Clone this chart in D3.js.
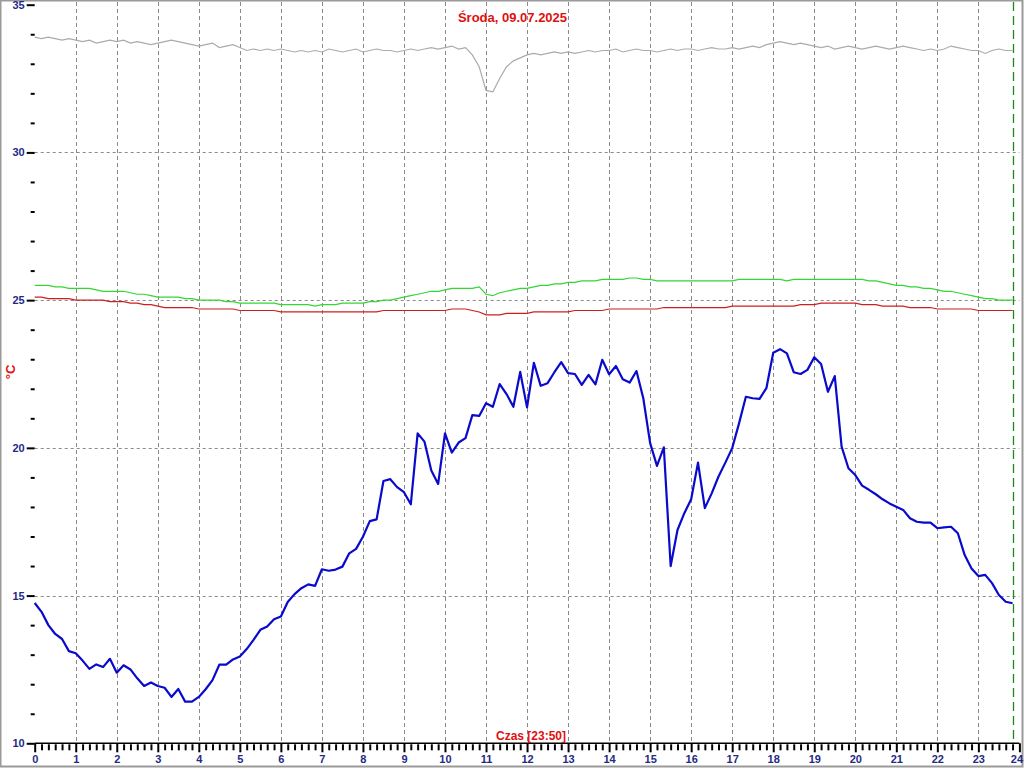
<!DOCTYPE html>
<html>
<head>
<meta charset="utf-8">
<script src="https://cdn.jsdelivr.net/npm/d3@7"></script>
<style>
  html, body { margin: 0; padding: 0; background: #fff; }
  svg { display: block; }
  text { font-family: "Liberation Sans", Arial, sans-serif; }
</style>
</head>
<body>
<svg id="chart" width="1024" height="768"></svg>
<script>
// ---- data (10-minute samples, 00:00 .. 23:50) ----
const titleText = "Środa, 09.07.2025";
const xTitle = "Czas [23:50]";
const yTitle = "°C";
const currentHour = 23 + 50 / 60;
const xTickLabels = d3.range(0, 25);
const yTickLabels = [10, 15, 20, 25, 30, 35];

const temperature = [
  14.75, 14.45, 14.0, 13.7, 13.53, 13.12,
  13.05, 12.8, 12.52, 12.67, 12.58, 12.86,
  12.39, 12.64, 12.5, 12.2, 11.94, 12.06,
  11.94, 11.88, 11.57, 11.84, 11.41, 11.41,
  11.57, 11.83, 12.14, 12.66, 12.66, 12.84,
  12.94, 13.19, 13.5, 13.84, 13.95, 14.2,
  14.29, 14.78, 15.05, 15.25, 15.38, 15.33,
  15.89, 15.84, 15.88, 15.98, 16.43, 16.58,
  16.99, 17.52, 17.58, 18.88, 18.94, 18.67,
  18.5, 18.09, 20.49, 20.21, 19.23, 18.78,
  20.49, 19.84, 20.18, 20.33, 21.11, 21.08,
  21.51, 21.39, 22.16, 21.82, 21.39, 22.57,
  21.37, 22.88, 22.1, 22.19, 22.56, 22.9,
  22.53, 22.5, 22.13, 22.47, 22.15, 22.98,
  22.49, 22.77, 22.32, 22.21, 22.6, 21.68,
  20.16, 19.39, 20.02, 16.0, 17.22, 17.79,
  18.26, 19.5, 17.96, 18.46, 19.03, 19.5,
  19.99, 20.83, 21.73, 21.68, 21.66, 22.02,
  23.22, 23.34, 23.2, 22.56, 22.5, 22.64,
  23.07, 22.84, 21.9, 22.43, 20.04, 19.31,
  19.08, 18.72, 18.58, 18.43, 18.26, 18.12,
  18.01, 17.9, 17.62, 17.5, 17.47, 17.47,
  17.28, 17.31, 17.33, 17.11, 16.37, 15.92,
  15.66, 15.7, 15.42, 15.02, 14.79, 14.74
];

const grayValues = [
  33.9, 33.85, 33.9, 33.85, 33.8, 33.85,
  33.8, 33.75, 33.8, 33.7, 33.75, 33.8,
  33.75, 33.8, 33.7, 33.75, 33.7, 33.65,
  33.7, 33.75, 33.8, 33.75, 33.7, 33.65,
  33.6, 33.65, 33.7, 33.55, 33.6, 33.65,
  33.55, 33.45, 33.5, 33.45, 33.5, 33.45,
  33.5, 33.45, 33.4, 33.45, 33.4, 33.45,
  33.4, 33.5, 33.45, 33.4, 33.45, 33.5,
  33.4, 33.45, 33.5, 33.45, 33.45, 33.4,
  33.45, 33.5, 33.45, 33.5, 33.55, 33.5,
  33.55, 33.6, 33.5, 33.55, 33.3, 32.9,
  32.1, 32.05, 32.5, 32.9, 33.1, 33.2,
  33.3, 33.35, 33.3, 33.35, 33.4, 33.35,
  33.4, 33.35, 33.4, 33.45, 33.4, 33.45,
  33.45, 33.5, 33.4, 33.45, 33.5, 33.45,
  33.45, 33.4, 33.45, 33.5, 33.45, 33.5,
  33.5, 33.45, 33.5, 33.55, 33.5, 33.5,
  33.55, 33.5, 33.55, 33.6, 33.55, 33.65,
  33.7, 33.75, 33.7, 33.65, 33.7, 33.65,
  33.6, 33.55, 33.6, 33.5, 33.55, 33.6,
  33.55, 33.5, 33.55, 33.6, 33.55, 33.5,
  33.55, 33.6, 33.55, 33.5, 33.45, 33.5,
  33.45, 33.5, 33.6, 33.55, 33.5, 33.45,
  33.45, 33.35, 33.45, 33.5, 33.45, 33.45
];

const greenValues = [
  25.5, 25.5, 25.5, 25.45, 25.45, 25.4,
  25.4, 25.4, 25.4, 25.35, 25.3, 25.3,
  25.3, 25.3, 25.25, 25.2, 25.2, 25.15,
  25.1, 25.1, 25.1, 25.1, 25.05, 25.05,
  25.0, 25.0, 25.0, 25.0, 24.95, 24.95,
  24.9, 24.9, 24.9, 24.9, 24.9, 24.9,
  24.85, 24.85, 24.85, 24.85, 24.85, 24.8,
  24.85, 24.85, 24.85, 24.9, 24.9, 24.9,
  24.9, 24.95, 24.95, 25.0, 25.0, 25.05,
  25.1, 25.15, 25.2, 25.25, 25.3, 25.3,
  25.35, 25.4, 25.4, 25.4, 25.4, 25.45,
  25.2, 25.15, 25.25, 25.3, 25.35, 25.4,
  25.4, 25.45, 25.5, 25.5, 25.55, 25.55,
  25.6, 25.6, 25.65, 25.65, 25.65, 25.7,
  25.7, 25.7, 25.7, 25.75, 25.75, 25.7,
  25.7, 25.65, 25.65, 25.65, 25.65, 25.65,
  25.65, 25.65, 25.65, 25.65, 25.65, 25.65,
  25.65, 25.7, 25.7, 25.7, 25.7, 25.7,
  25.7, 25.7, 25.65, 25.7, 25.7, 25.7,
  25.7, 25.7, 25.7, 25.7, 25.7, 25.7,
  25.7, 25.7, 25.65, 25.65, 25.6, 25.55,
  25.5, 25.5, 25.45, 25.45, 25.4, 25.4,
  25.35, 25.3, 25.3, 25.25, 25.2, 25.15,
  25.1, 25.05, 25.05, 25.0, 25.0, 25.0
];

const redValues = [
  25.1, 25.1, 25.05, 25.05, 25.05, 25.05,
  25.0, 25.0, 25.0, 25.0, 25.0, 24.95,
  24.95, 24.95, 24.9, 24.9, 24.85, 24.85,
  24.8, 24.75, 24.75, 24.75, 24.75, 24.75,
  24.7, 24.7, 24.7, 24.7, 24.7, 24.7,
  24.65, 24.65, 24.65, 24.65, 24.65, 24.65,
  24.6, 24.6, 24.6, 24.6, 24.6, 24.6,
  24.6, 24.6, 24.6, 24.6, 24.6, 24.6,
  24.6, 24.6, 24.6, 24.65, 24.65, 24.65,
  24.65, 24.65, 24.65, 24.65, 24.65, 24.65,
  24.65, 24.7, 24.7, 24.7, 24.65, 24.6,
  24.5, 24.5, 24.5, 24.55, 24.55, 24.55,
  24.55, 24.6, 24.6, 24.6, 24.6, 24.6,
  24.6, 24.65, 24.65, 24.65, 24.65, 24.65,
  24.7, 24.7, 24.7, 24.7, 24.7, 24.7,
  24.7, 24.7, 24.75, 24.75, 24.75, 24.75,
  24.75, 24.75, 24.75, 24.75, 24.75, 24.75,
  24.8, 24.8, 24.8, 24.8, 24.8, 24.8,
  24.8, 24.8, 24.8, 24.8, 24.85, 24.85,
  24.85, 24.9, 24.9, 24.9, 24.9, 24.9,
  24.9, 24.85, 24.85, 24.85, 24.8, 24.8,
  24.8, 24.8, 24.75, 24.75, 24.75, 24.75,
  24.7, 24.7, 24.7, 24.7, 24.7, 24.7,
  24.65, 24.65, 24.65, 24.65, 24.65, 24.65
];

// ---- drawing ----
const svg = d3.select("#chart");
const W = 1024, H = 768;
const x = d3.scaleLinear().domain([0, 24]).range([34.7, 1019.4]);
const y = d3.scaleLinear().domain([10, 35]).range([743.3, 4.7]);
const hours = temperature.map((_, i) => i / 6);

const navy = "#1f2a85";
const red = "#e01010";

// frame
svg.append("rect").attr("x", 0.5).attr("y", 0.5).attr("width", W - 2).attr("height", H - 2)
  .attr("fill", "#fff").attr("stroke", "#9a9a9a").attr("stroke-width", 2);

// horizontal grid
svg.append("g").selectAll("line").data([15, 20, 25, 30]).join("line")
  .attr("x1", x(0)).attr("x2", x(24))
  .attr("y1", d => Math.round(y(d)) + 0.5).attr("y2", d => Math.round(y(d)) + 0.5)
  .attr("stroke", "#8a8a8a").attr("stroke-dasharray", "3,3");

// vertical grid
svg.append("g").selectAll("line").data(d3.range(1, 24)).join("line")
  .attr("x1", d => Math.round(x(d)) + 0.5).attr("x2", d => Math.round(x(d)) + 0.5)
  .attr("y1", 2).attr("y2", y(10))
  .attr("stroke", "#8a8a8a").attr("stroke-dasharray", "4,3");

// current time marker
svg.append("line")
  .attr("x1", Math.round(x(currentHour)) + 0.5).attr("x2", Math.round(x(currentHour)) + 0.5)
  .attr("y1", 2).attr("y2", y(10))
  .attr("stroke", "#1a8a1a").attr("stroke-width", 1.3).attr("stroke-dasharray", "9,5");

// y axis
const yAxis = d3.axisLeft(y).tickValues(yTickLabels).tickSize(8).tickPadding(2)
  .tickFormat(d3.format("d"));
const gy = svg.append("g").attr("transform", `translate(${x(0)},0)`).call(yAxis);
gy.select(".domain").remove();
gy.selectAll(".tick line").attr("stroke", "#000").attr("stroke-width", 2);
gy.selectAll(".tick text").attr("fill", navy).attr("font-size", 11).attr("font-weight", "bold")
  .attr("font-family", "Liberation Sans, Arial, sans-serif");
const yMinor = d3.axisLeft(y).tickValues(d3.range(10, 36).filter(v => v % 5 !== 0))
  .tickSize(4).tickFormat("");
const gym = svg.append("g").attr("transform", `translate(${x(0)},0)`).call(yMinor);
gym.select(".domain").remove();
gym.selectAll(".tick line").attr("stroke", "#000").attr("stroke-width", 2);

// x axis
const xAxis = d3.axisBottom(x).tickValues(xTickLabels).tickSize(9).tickPadding(3)
  .tickFormat(d3.format("d"));
const gx = svg.append("g").attr("transform", `translate(0,${y(10)})`).call(xAxis);
gx.select(".domain").attr("stroke", "#000").attr("stroke-width", 1.5).attr("d", `M${x(0)},0H${x(24)}`);
gx.selectAll(".tick line").attr("stroke", "#000").attr("stroke-width", 2);
gx.selectAll(".tick text").attr("fill", navy).attr("font-size", 11).attr("font-weight", "bold")
  .attr("font-family", "Liberation Sans, Arial, sans-serif")
  .attr("dx", d => d === 24 ? -3 : 0);
const xMinor = d3.axisBottom(x).tickValues(d3.range(0, 144).filter(i => i % 6 !== 0).map(i => i / 6))
  .tickSize(6).tickFormat("");
const gxm = svg.append("g").attr("transform", `translate(0,${y(10) + 1})`).call(xMinor);
gxm.select(".domain").remove();
gxm.selectAll(".tick line").attr("stroke", "#000").attr("stroke-width", 2);

// series
const line = d3.line().x((d, i) => x(hours[i])).y(d => y(d));
svg.append("path").datum(grayValues).attr("d", line)
  .attr("fill", "none").attr("stroke", "#ababab").attr("stroke-width", 1.2);
svg.append("path").datum(greenValues).attr("d", line)
  .attr("fill", "none").attr("stroke", "#33d633").attr("stroke-width", 1.2);
svg.append("path").datum(redValues).attr("d", line)
  .attr("fill", "none").attr("stroke", "#cc1f1f").attr("stroke-width", 1.2);
svg.append("path").datum(temperature).attr("d", line)
  .attr("fill", "none").attr("stroke", "#0a0acc").attr("stroke-width", 2.2)
  .attr("stroke-linejoin", "round");

// titles
svg.append("text").attr("x", 512.5).attr("y", 22).attr("text-anchor", "middle")
  .attr("fill", red).attr("font-size", 13).attr("font-weight", "bold").text(titleText);
svg.append("text").attr("x", 531).attr("y", 740).attr("text-anchor", "middle")
  .attr("fill", red).attr("font-size", 12).attr("font-weight", "bold").text(xTitle);
svg.append("text").attr("transform", "translate(15,372) rotate(-90)").attr("text-anchor", "middle")
  .attr("fill", red).attr("font-size", 13).attr("font-weight", "bold").text(yTitle);
</script>
</body>
</html>
